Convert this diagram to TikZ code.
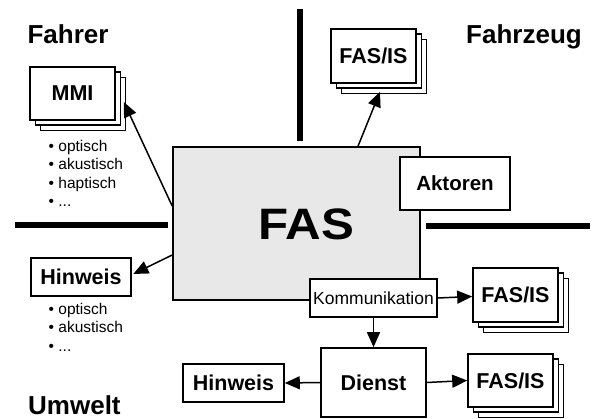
\documentclass[tikz,border=0pt]{standalone}
\usepackage{fontspec}
\setmainfont{Liberation Sans}
\usetikzlibrary{arrows.meta,shadows}
\definecolor{fasgray}{RGB}{232,232,232}
\begin{document}
\begin{tikzpicture}[x=1pt,y=-1pt,
  title/.style={inner sep=0pt, anchor=base west, font=\bfseries\fontsize{26}{30}\selectfont},
  item/.style={inner sep=0pt, anchor=base west, font=\fontsize{15.5}{18}\selectfont},
  box/.style={draw, line width=1.6pt, fill=white, inner sep=0pt,
    font=\bfseries\fontsize{21.5}{25}\selectfont},
  stack/.style={box,
    general shadow={shadow xshift=10.6pt, shadow yshift=-10.6pt, draw, fill=white, line width=1.6pt},
    general shadow={shadow xshift=5.3pt, shadow yshift=-5.3pt, draw, fill=white, line width=1.6pt}},
  arr/.style={line width=1.5pt, -{Triangle[length=15pt,width=13pt]}},
  sep/.style={line width=6pt}]
\useasboundingbox (0,0) rectangle (592,419);

% domain titles
\node[title] (fahrer)   at (27.4,43.3) {Fahrer};
\node[title] (fahrzeug) at (466,43.3)  {Fahrzeug};
\node[title] (umwelt)   at (28,415)    {Umwelt};

% separators between the domains
\draw[sep] (300,9) -- (300,141);
\draw[sep] (15,225.5) -- (168,225.5);
\draw[sep] (426,226) -- (590,226);

% central system
\node[draw, line width=1.6pt, fill=fasgray, inner sep=0pt,
      minimum width=247, minimum height=153] (fas) at (296.5,223.5) {};
\node[inner sep=0pt, anchor=base, font=\bfseries\fontsize{44}{50}\selectfont]
      (fastext) at (306,240) {\scalebox{1.12}[1]{FAS}};
\node[box, font=\bfseries\fontsize{20.5}{24}\selectfont, minimum width=110, minimum height=53]
      (akt) at (455,183.5) {Aktoren};
\node[box, font=\fontsize{17.5}{20}\selectfont, minimum width=127, minimum height=38]
      (komm) at (373.5,298) {Kommunikation};

% driver side
\node[stack, minimum width=85, minimum height=53] (mmi) at (72.5,93.5) {MMI};
\node[item] (d1) at (48.5,151.7) {• optisch};
\node[item] (d2) at (48.5,170)   {• akustisch};
\node[item] (d3) at (48.5,188.3) {• haptisch};
\node[item] (d4) at (48.5,206.6) {• ...};

% vehicle side
\node[stack, minimum width=85, minimum height=54] (fasisA) at (373.5,56) {FAS/IS};

% environment side
\node[box, minimum width=100, minimum height=38] (hinwA) at (81,277) {Hinweis};
\node[item] (e1) at (48.5,314.7) {• optisch};
\node[item] (e2) at (48.5,333)   {• akustisch};
\node[item] (e3) at (48.5,351.3) {• ...};

\node[stack, minimum width=85, minimum height=54] (fasisB) at (515.5,295) {FAS/IS};
\node[box, minimum width=105, minimum height=69] (dienst) at (373.5,382.5) {Dienst};
\node[box, minimum width=101, minimum height=38] (hinwB) at (233.5,383) {Hinweis};
\node[stack, minimum width=85, minimum height=53] (fasisC) at (510.5,380.5) {FAS/IS};

% connectors
\draw[arr] ([shift={(0,-17.5)}]fas.west) -- ([shift={(8,8.5)}]mmi.east);
\draw[arr] ([shift={(61.5,0)}]fas.north) -- ([shift={(6.5,8)}]fasisA.south);
\draw[arr] ([shift={(0,31.5)}]fas.west) -- ([shift={(1.5,-3)}]hinwA.east);
\draw[arr] (komm.east) -- ([shift={(0,1.5)}]fasisB.west);
\draw[arr] (komm.south) -- (dienst.north);
\draw[arr] (dienst.west) -- (hinwB.east);
\draw[arr] (dienst.east) -- (fasisC.west);
\end{tikzpicture}
\end{document}
